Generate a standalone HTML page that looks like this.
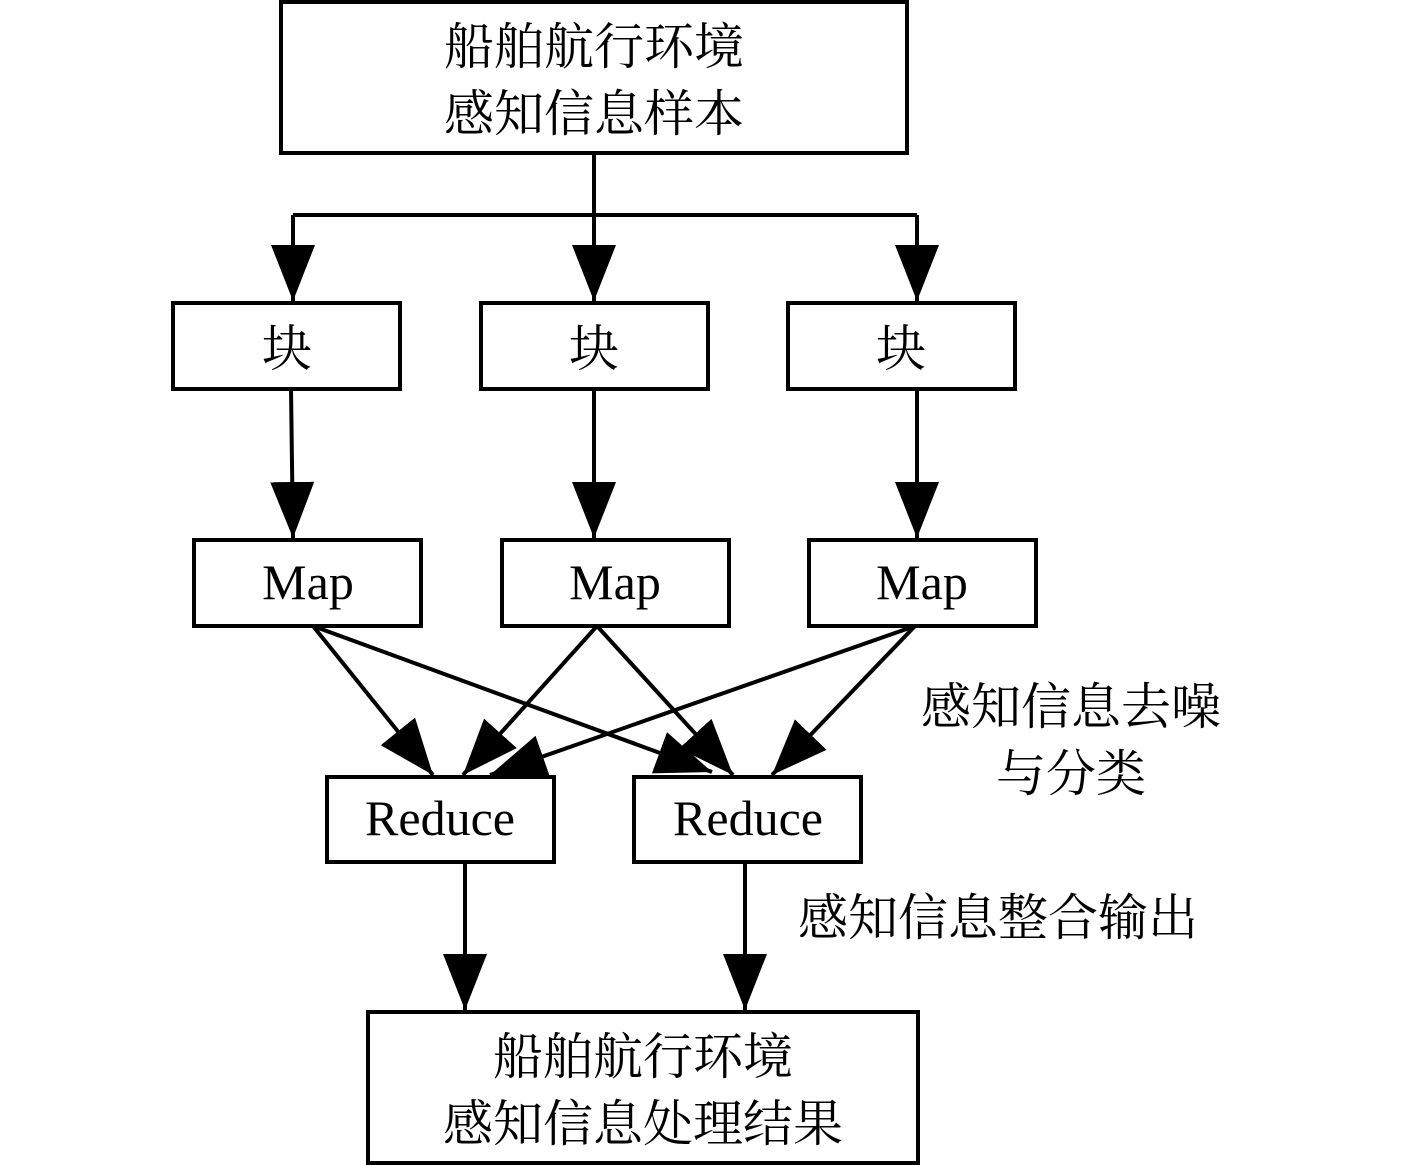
<!DOCTYPE html>
<html><head><meta charset="utf-8"><style>
html,body{margin:0;padding:0;background:#fff;}
svg{display:block;}
text{font-family:"Liberation Serif","Noto Serif CJK SC","Noto Sans CJK SC",serif;fill:#000;}
</style></head><body>
<svg width="1417" height="1165" viewBox="0 0 1417 1165" xmlns="http://www.w3.org/2000/svg">
<defs>
<marker id="a" markerUnits="userSpaceOnUse" markerWidth="60" markerHeight="50" refX="56" refY="22" orient="auto">
<path d="M0,0 L56,22 L0,44 Z" fill="#000"/>
</marker>
</defs>
<g fill="none" stroke="#000" stroke-width="4">
<rect x="281" y="2" width="626" height="151"/>
<rect x="173" y="303" width="227" height="86"/>
<rect x="481" y="303" width="227" height="86"/>
<rect x="788" y="303" width="227" height="86"/>
<rect x="194" y="540" width="227" height="86"/>
<rect x="502" y="540" width="227" height="86"/>
<rect x="809" y="540" width="227" height="86"/>
<rect x="327" y="777" width="227" height="85"/>
<rect x="634" y="777" width="227" height="85"/>
<rect x="368" y="1012" width="550" height="151"/>
<path d="M594,153 V215 M293,215 H917"/>
<line x1="293" y1="215" x2="293" y2="301" marker-end="url(#a)"/>
<line x1="594" y1="215" x2="594" y2="301" marker-end="url(#a)"/>
<line x1="917" y1="215" x2="917" y2="301" marker-end="url(#a)"/>
<line x1="291" y1="389" x2="293" y2="538" marker-end="url(#a)"/>
<line x1="594" y1="389" x2="594" y2="538" marker-end="url(#a)"/>
<line x1="917" y1="389" x2="917" y2="538" marker-end="url(#a)"/>
<line x1="313" y1="626" x2="433" y2="775" marker-end="url(#a)"/>
<line x1="313" y1="626" x2="712" y2="772" marker-end="url(#a)"/>
<line x1="597" y1="626" x2="463" y2="775" marker-end="url(#a)"/>
<line x1="597" y1="626" x2="733" y2="775" marker-end="url(#a)"/>
<line x1="915" y1="626" x2="490" y2="775" marker-end="url(#a)"/>
<line x1="915" y1="626" x2="772" y2="775" marker-end="url(#a)"/>
<line x1="465" y1="862" x2="465" y2="1010" marker-end="url(#a)"/>
<line x1="745" y1="862" x2="745" y2="1010" marker-end="url(#a)"/>
</g>
<g font-size="50" text-anchor="middle">
<text x="594" y="64">船舶航行环境</text>
<text x="594" y="131">感知信息样本</text>
<text x="287" y="366">块</text>
<text x="594" y="366">块</text>
<text x="901" y="366">块</text>
<text x="308" y="599">Map</text>
<text x="615" y="599">Map</text>
<text x="922" y="599">Map</text>
<text x="440" y="835">Reduce</text>
<text x="748" y="835">Reduce</text>
<text x="643" y="1074">船舶航行环境</text>
<text x="643" y="1141">感知信息处理结果</text>
<text x="1071" y="724">感知信息去噪</text>
<text x="1071" y="791">与分类</text>
<text x="998" y="935">感知信息整合输出</text>
</g>
</svg>
</body></html>
